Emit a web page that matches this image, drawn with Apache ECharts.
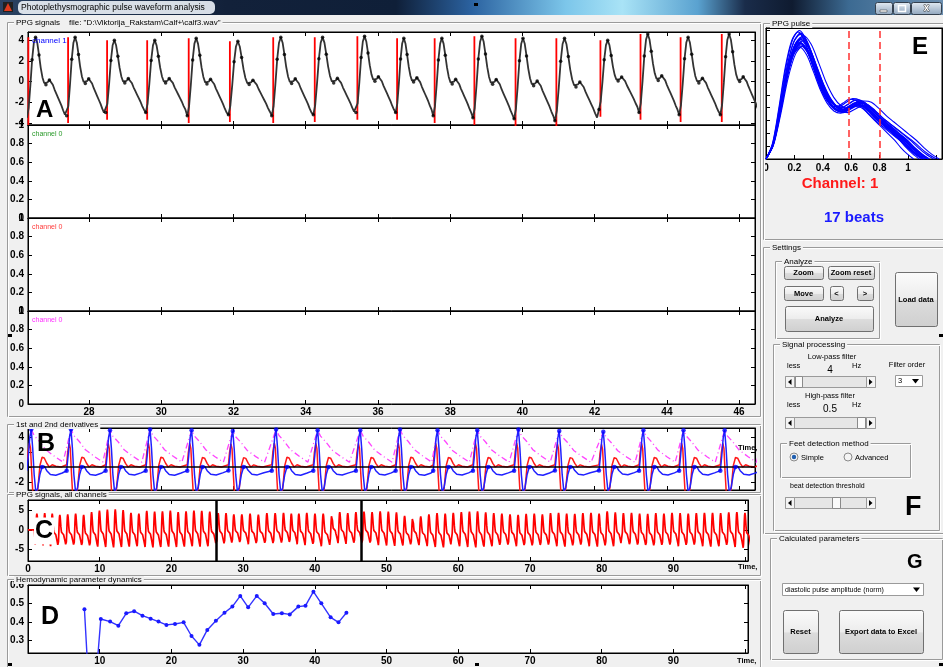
<!DOCTYPE html>
<html><head><meta charset="utf-8">
<script src="https://cdn.jsdelivr.net/npm/echarts@6/dist/echarts.min.js"></script>
<style>html,body{margin:0;padding:0;background:#f0f0f0}#c{width:943px;height:667px}</style>
</head><body><div id="c"></div>
<script>
// ================= DATA =================
// single pulse template (time from foot, s ; normalised amplitude) - panel E
const pulseTime = [0,0.05,0.10,0.15,0.20,0.25,0.30,0.35,0.40,0.45,0.50,0.55,0.60,0.65,0.70,0.75,0.80,0.85,0.90,0.95,1.00,1.05,1.10,1.15];
const pulseNorm = [0,0.12,0.40,0.72,0.93,1.00,0.93,0.78,0.62,0.50,0.43,0.41,0.44,0.47,0.46,0.41,0.35,0.30,0.25,0.20,0.15,0.09,0.04,0.0];
const pulseMarkIdx = [0,3,5,7,11,13];

// panel A: beat foot times (s), foot and peak values
const beatFoot    = [26.28,27.38,28.46,29.57,30.72,31.86,33.06,34.21,35.39,36.49,37.53,38.63,39.77,40.90,42.12,43.23,44.34,45.48,46.60];
const beatFootVal = [-3.5,-3.3,-3.0,-3.0,-3.3,-3.2,-3.3,-3.2,-3.0,-3.0,-3.3,-3.5,-3.6,-3.8,-2.7,-3.0,-3.2,-3.2,-3.0];
const beatPeakVal = [4.3,4.3,4.0,4.0,4.2,3.9,4.3,4.3,4.4,4.2,4.2,4.4,4.2,4.2,4.0,4.6,4.3,4.6,4.3];

// panel B: derivative templates (time from foot, s) and per-beat blue peak
const blueT = [0,0.04,0.08,0.12,0.16,0.20,0.25,0.30,0.36,0.42,0.48,0.55,0.65,0.80,0.98];
const blueV = [-0.5,1.5,4.0,5.0,2.5,-1.0,-3.5,-2.8,-1.0,0.0,0.1,-0.5,-1.0,-1.1,-0.8];
const redT  = [0,0.03,0.07,0.10,0.13,0.17,0.22,0.30,0.36,0.42,0.48,0.55,0.62,0.70,0.80,0.95];
const redV  = [0.3,2.0,3.2,2.5,-0.5,-4.0,-4.5,-3.0,0.2,1.3,1.2,0.5,0.0,0.3,0.1,0.0];
const magT  = [0.12,0.20,0.35,0.52,0.77,1.00];
const magV  = [5.0,4.2,3.4,2.3,1.4,0.65];
const bluePeak = [5.0,5.0,4.9,5.0,4.9,4.8,5.0,4.9,4.9,5.0,4.9,4.9,5.0,4.8,4.7,4.9,4.9,4.9,5.0];
const blueDotIdx = [0,3,9];

// panel C: whole record
const cLeadTime = [0,0.9];
const cLeadVal  = [0,0];
const cFoot = [1.00,2.10,3.15,
  4.20,5.30,6.40,7.52,8.63,9.72,10.83,11.93,13.03,14.12,15.22,16.32,17.42,18.51,19.61,20.70,21.80,22.90,23.99,25.09,
  26.28,27.38,28.46,29.57,30.72,31.86,33.06,34.21,35.39,36.49,37.53,38.63,39.77,40.90,42.12,43.23,44.34,45.48,
  46.60,47.74,48.86,50.00,51.13,52.27,53.40,54.52,55.66,56.79,57.93,59.06,60.18,61.31,62.44,63.58,64.70,65.83,66.97,68.10,
  69.22,70.35,71.48,72.62,73.74,74.87,76.00,77.13,78.26,79.39,80.52,81.65,82.78,83.91,85.04,86.17,87.30,88.43,89.56,90.69,
  91.82,92.95,94.08,95.21,96.34,97.47,98.60,99.73];
const cPeak = [4.2,4.3,4.2,
  3.9,4.0,4.2,3.9,4.6,5.0,
  5.2,5.3,5.1,4.4,4.2,4.9,4.7,4.8,5.0,4.6,4.8,5.0,4.9,4.7,
  4.3,4.3,4.0,4.0,4.2,3.9,4.3,4.3,4.4,4.2,4.2,4.4,4.2,4.2,4.0,4.6,4.3,4.6,
  4.7,4.6,4.8,4.7,4.5,3.6,3.3,3.5,4.0,4.3,
  4.2,4.4,4.6,4.7,4.8,4.5,4.3,4.2,4.0,3.9,
  4.1,4.2,4.0,4.3,4.4,4.2,4.1,4.3,4.4,4.2,
  4.8,4.5,4.3,4.4,4.2,4.1,4.3,4.2,4.4,4.3,
  4.2,4.3,4.4,4.4,4.3,4.5,4.6,4.4];
const cFootVal = [-3.8,-4.0,-4.2,
  -4.0,-4.1,-4.2,-4.3,-4.4,-4.3,
  -4.4,-4.5,-4.4,-4.3,-4.2,-4.4,-4.5,-4.4,-4.3,-4.4,-4.3,-4.2,-4.3,-4.2,
  -3.8,-3.6,-3.4,-3.4,-3.7,-3.6,-3.7,-3.6,-3.4,-3.4,-3.7,-3.9,-4.0,-4.2,-3.1,-3.4,-3.6,-3.6,
  -3.6,-3.7,-3.9,-4.0,-4.1,-4.0,-3.8,-3.9,-4.2,-4.4,
  -4.5,-4.3,-4.2,-4.4,-4.5,-4.3,-4.2,-4.1,-4.0,-4.2,
  -4.3,-4.2,-4.1,-4.0,-4.2,-4.3,-4.1,-4.0,-4.2,-4.3,
  -4.1,-4.2,-4.0,-4.1,-4.2,-4.3,-4.2,-4.1,-4.0,-4.2,
  -4.1,-4.0,-4.2,-4.3,-4.2,-4.1,-4.4,-4.6];
const windowEdges = [26.31,46.44];

// panel D: hemodynamic parameter per beat
const dTime  = [7.87,8.4,9.5,10.15,11.45,12.6,13.7,14.8,15.96,17.1,18.2,19.3,20.5,21.7,22.8,23.9,25.0,26.2,27.4,28.5,29.6,30.7,31.9,33.0,34.2,35.4,36.5,37.7,38.7,39.8,40.9,42.2,43.3,44.4];
const dValue = [0.469,0.10,0.10,0.416,0.402,0.380,0.447,0.458,0.434,0.418,0.402,0.384,0.389,0.398,0.324,0.276,0.357,0.407,0.450,0.483,0.541,0.479,0.541,0.501,0.443,0.447,0.441,0.483,0.488,0.564,0.501,0.425,0.398,0.450];

// panel E: normalised peak of each of the 17 beats, marker lines
const ePeak = [1.0,0.97,0.93,0.90,0.88,0.95,0.92,0.87,0.99,0.91,0.94,0.89,0.96,0.90,0.93,0.88,0.98];
const eMarkers = [0.585,0.80];

// ================= BUILD =================
const FF = 'Liberation Sans';
const lab = {fontFamily:FF, fontSize:10, fontWeight:'bold', color:'#000'};
const grids=[], xAxes=[], yAxes=[], series=[], G=[];

function axis(gi,pos,o,labels,ticks){
  return {type:'value',gridIndex:gi,position:pos,min:o.min,max:o.max,splitNumber:o.split,
    axisLine:{show:true,onZero:false,lineStyle:{color:'#000',width:1}},
    axisTick:{show:ticks,inside:true,length:4,lineStyle:{color:'#000'}},
    axisLabel:Object.assign({show:!!labels,margin:o.margin||4,showMinLabel:!!o.showMin,showMaxLabel:!!o.showMax,
      formatter:o.fmt||(v=>String(+(+v).toFixed(2)))},lab),
    splitLine:{show:false}};
}
function addPlot(g,xo,yo){
  const gi=grids.length;
  grids.push(Object.assign({show:true,backgroundColor:'#fff',borderColor:'#000',borderWidth:1},g));
  const xi=xAxes.length, yi=yAxes.length;
  xAxes.push(axis(gi,'bottom',xo,xo.labels,true));
  xAxes.push(axis(gi,'top',xo,false,xo.topTicks!==false));
  yAxes.push(axis(gi,'left',yo,yo.labels,true));
  yAxes.push(axis(gi,'right',yo,false,yo.rightTicks!==false));
  return {xi,yi};
}
const xTop={min:26.31,max:46.44,split:10};
const pA  = addPlot({left:28,top:32,width:727,height:93}, xTop, {min:-4.2,max:4.8,split:4,labels:true});
const p2  = addPlot({left:28,top:125,width:727,height:93}, xTop, {min:0,max:1,split:5,labels:true,showMin:true,showMax:true});
const p3  = addPlot({left:28,top:218,width:727,height:93}, xTop, {min:0,max:1,split:5,labels:true,showMin:true,showMax:true});
const p4  = addPlot({left:28,top:311,width:727,height:93}, Object.assign({labels:true,margin:3},xTop), {min:0,max:1,split:5,labels:true,showMin:true,showMax:true});
const pB  = addPlot({left:28,top:428,width:727,height:62}, xTop, {min:-3.07,max:5.2,split:4,labels:true});
const fmtLong = v => (v>=100 ? '' : String(Math.round(v)));
const pC  = addPlot({left:28,top:500,width:720,height:61}, {min:0,max:100.4,split:10,labels:true,showMin:true,margin:3,fmt:fmtLong}, {min:-8,max:7.7,split:3,labels:true});
const pD  = addPlot({left:28,top:585,width:720,height:68}, {min:0,max:100.4,split:10,labels:true,margin:3,fmt:fmtLong}, {min:0.232,max:0.6,split:4,labels:true,showMax:true});
const pE  = addPlot({left:766,top:28,width:176,height:131}, {min:0,max:1.24,split:6,labels:true,showMin:true,margin:4,topTicks:false,fmt:v=>(v>1.1?'':String(+(+v).toFixed(1)))}, {min:0,max:1.02,split:7,labels:false,rightTicks:false});

const T = pulseTime[pulseTime.length-1];
function pulseTrain(foots,fv,pv,lastPer){
  const n=pulseTime.length,out=[];
  for(let i=0;i<foots.length;i++){
    const per=i<foots.length-1?foots[i+1]-foots[i]:lastPer;
    const last=i<foots.length-1?n-1:n;
    for(let j=0;j<last;j++) out.push([foots[i]+pulseTime[j]*per/T, fv[i]+pulseNorm[j]*(pv[i]-fv[i])]);
  }
  return out;
}
function tplTrain(foots,tt,tv,peaks){
  const out=[];
  foots.forEach((f,i)=>{const s=peaks[i]/5; tt.forEach((t,j)=>out.push([f+t,tv[j]*s]));});
  return out;
}
const on = p => ({xAxisIndex:p.xi,yAxisIndex:p.yi});

// --- A
const aTrain = pulseTrain(beatFoot,beatFootVal,beatPeakVal,1.14);
const aSpikes=[];
beatFoot.forEach((t,i)=>{aSpikes.push([t+0.04,beatFootVal[i]-0.7],[t+0.04,beatPeakVal[i]],[t+0.04,'-']);});
series.push(Object.assign({type:'line',data:aSpikes,symbol:'none',connectNulls:false,lineStyle:{color:'#ff0000',width:1.8},z:2,silent:true},on(pA)));
series.push(Object.assign({type:'line',data:aTrain,symbol:'none',lineStyle:{color:'#333333',width:1.8},z:3,silent:true},on(pA)));
const aDots=[];
beatFoot.forEach((f,i)=>{const per=i<beatFoot.length-1?beatFoot[i+1]-f:1.14;
  pulseMarkIdx.forEach(j=>aDots.push([f+pulseTime[j]*per/T, beatFootVal[i]+pulseNorm[j]*(beatPeakVal[i]-beatFootVal[i])]));});
series.push(Object.assign({type:'scatter',data:aDots,symbolSize:3.5,itemStyle:{color:'#000'},z:4,silent:true},on(pA)));
// empty channels
[p2,p3,p4].forEach(p=>series.push(Object.assign({type:'line',data:[],symbol:'none'},on(p))));

// --- B
series.push(Object.assign({type:'line',data:tplTrain(beatFoot,redT,redV,bluePeak),symbol:'none',lineStyle:{color:'#ff1a1a',width:1.5},z:3,silent:true},on(pB)));
series.push(Object.assign({type:'line',data:tplTrain(beatFoot,blueT,blueV,bluePeak),symbol:'none',lineStyle:{color:'#2020ff',width:1.5},z:4,silent:true,
  markLine:{silent:true,symbol:['none','none'],label:{show:false},lineStyle:{color:'#000',width:1.5,type:'solid'},data:[{yAxis:0}]}},on(pB)));
const magData=[];
beatFoot.forEach((f,i)=>{const s=bluePeak[i]/5; magT.forEach((t,j)=>magData.push([f+t,magV[j]*s]));});
series.push(Object.assign({type:'line',data:magData,symbol:'none',lineStyle:{color:'#ff44ff',width:1.3,type:[6,3,1,3]},z:3,silent:true},on(pB)));
const bDots=[];
beatFoot.forEach((f,i)=>{const s=bluePeak[i]/5; blueDotIdx.forEach(j=>bDots.push([f+blueT[j],blueV[j]*s]));});
series.push(Object.assign({type:'scatter',data:bDots,symbolSize:4.5,itemStyle:{color:'#0000ff'},z:5,silent:true},on(pB)));

// --- C
const cData = cLeadTime.map((t,i)=>[t,cLeadVal[i]]).concat(pulseTrain(cFoot,cFootVal,cPeak,1.13));
series.push(Object.assign({type:'line',data:cData,symbol:'none',lineStyle:{color:'#ff0000',width:1.7},z:3,silent:true,
  markLine:{silent:true,symbol:['none','none'],label:{show:false},lineStyle:{color:'#000',width:2.5,type:'solid'},data:windowEdges.map(v=>({xAxis:v}))}},on(pC)));

// --- D
series.push(Object.assign({type:'line',data:dTime.map((t,i)=>[t,dValue[i]]),symbol:'circle',symbolSize:4,showSymbol:true,
  itemStyle:{color:'#1a1aff'},lineStyle:{color:'#3333ff',width:1.4},z:3,silent:true},on(pD)));

// --- E
ePeak.forEach((p,k)=>{const i=k+1; const per=beatFoot[i+1]-beatFoot[i];
  const s={type:'line',data:pulseTime.map((t,j)=>[t*per/T,pulseNorm[j]*p]),symbol:'none',smooth:0.3,lineStyle:{color:'#0000ff',width:1.1},z:3,silent:true};
  if(k===0) s.markLine={silent:true,symbol:['none','none'],label:{show:false},lineStyle:{color:'#ff3030',width:1.5,type:[7,4]},data:eMarkers.map(v=>({xAxis:v}))};
  series.push(Object.assign(s,on(pE)));
});

// ================= GUI GRAPHICS =================
function rect(x,y,w,h,style,z,r){G.push({type:'rect',silent:true,z:z||1,shape:{x,y,width:w,height:h,r:r||0},style});}
function text(x,y,t,font,fill,align,extra,z){G.push({type:'text',x,y,silent:true,z:z||20,
  style:Object.assign({text:t,font,fill:fill||'#000',align:align||'left',verticalAlign:'middle',textAlign:align||'left',textVerticalAlign:'middle'},extra||{})});}
function panel(x,y,w,h,label){
  rect(x+0.5,y+0.5,w,h,{fill:'none',stroke:'#9a9a9a',lineWidth:1},1);
  rect(x+1.5,y+1.5,w,h,{fill:'none',stroke:'#ffffff',lineWidth:1},1);
  if(label) text(x+7,y+1,label,'8px "'+FF+'"','#000','left',{backgroundColor:'#f0f0f0',padding:[0,2]},15);
}
const btnFill={type:'linear',x:0,y:0,x2:0,y2:1,colorStops:[{offset:0,color:'#fbfbfb'},{offset:0.5,color:'#ececec'},{offset:0.52,color:'#dcdcdc'},{offset:1,color:'#cfcfcf'}]};
function button(x,y,w,h,label){rect(x+0.5,y+0.5,w,h,{fill:btnFill,stroke:'#707070',lineWidth:1},5,2); text(x+w/2,y+h/2+0.5,label,'bold 7.5px "'+FF+'"','#000','center',null,21);}
function tri(pts,fill){G.push({type:'polygon',silent:true,z:22,shape:{points:pts},style:{fill:fill||'#000'}});}
function slider(x,y,w,h,thumbX,thumbW){
  rect(x+0.5,y+0.5,w,h,{fill:'#e6e6e6',stroke:'#9a9a9a',lineWidth:1},5);
  rect(x+0.5,y+0.5,9,h,{fill:'#f4f4f4',stroke:'#9a9a9a',lineWidth:1},6);
  rect(x+w-8.5,y+0.5,9,h,{fill:'#f4f4f4',stroke:'#9a9a9a',lineWidth:1},6);
  tri([[x+3,y+h/2+0.5],[x+6.5,y+h/2-2.5],[x+6.5,y+h/2+3.5]]);
  tri([[x+w-2.5,y+h/2+0.5],[x+w-6,y+h/2-2.5],[x+w-6,y+h/2+3.5]]);
  rect(thumbX+0.5,y+0.5,thumbW,h,{fill:'#fafafa',stroke:'#8a8a8a',lineWidth:1},7);
}

// title bar
rect(0,0,943,15,{fill:{type:'linear',x:0,y:0,x2:1,y2:0,colorStops:[
  {offset:0,color:'#2a4262'},{offset:0.24,color:'#12213a'},{offset:0.42,color:'#0f1f38'},{offset:0.5,color:'#2b62a0'},
  {offset:0.6,color:'#7cc6ea'},{offset:0.66,color:'#a9e3f6'},{offset:0.74,color:'#5aa2d0'},{offset:0.79,color:'#1a2c4a'},
  {offset:0.84,color:'#0f1b30'},{offset:0.9,color:'#3c6a92'},{offset:1,color:'#6c8fb0'}]}},1);
rect(18,1,197,13,{fill:'rgba(232,238,244,0.92)'},2,5);
rect(3,2,10,10,{fill:'#202020'},3);
tri([[4,11],[8,3],[12,11]],'#e03a1c');
text(21,8,'Photoplethysmographic pulse waveform analysis','8.5px "'+FF+'"','#000');
const wbFill={type:'linear',x:0,y:0,x2:0,y2:1,colorStops:[{offset:0,color:'#e4ecf4'},{offset:0.5,color:'#b9c8d8'},{offset:1,color:'#8ea4bc'}]};
rect(875.5,2.5,17,12,{fill:wbFill,stroke:'#34404e',lineWidth:1},3,2);
rect(893.5,2.5,17,12,{fill:wbFill,stroke:'#34404e',lineWidth:1},3,2);
rect(911.5,2.5,30,12,{fill:wbFill,stroke:'#34404e',lineWidth:1},3,2);
rect(880,10,7,2,{fill:'#fff',stroke:'#333',lineWidth:0.5},4);
rect(898.5,5.5,7,6,{fill:'none',stroke:'#fff',lineWidth:1.5},4);
text(926.5,8.5,'x','bold 10px "'+FF+'"','#fff','center',{stroke:'#333',lineWidth:1},22);

// panels (left)
panel(7,22,753,394,'PPG signals    file: "D:\\Viktorija_Rakstam\\Calf+\\calf3.wav"');
panel(7,424,753,68,'1st and 2nd derivatives');
panel(7,494,753,81,'PPG signals, all channels');
panel(7,579,753,92,'Hemodynamic parameter dynamics');
// panels (right)
panel(763,23,180,216,'PPG pulse');
panel(763,247,180,286,'Settings');
panel(775,261,104,77,'Analyze');
panel(773,344,166,186,'Signal processing');
panel(780,443,130,34,'Feet detection method');
panel(770,538,172,121,'Calculated parameters');

// buttons
button(784,266,39,13,'Zoom');
button(828,266,46,13,'Zoom reset');
button(784,286,39,14,'Move');
button(830,286,13,14,'<');
button(857,286,16,14,'>');
button(785,306,88,25,'Analyze');
button(895,272,42,54,'Load data');
button(783,610,35,43,'Reset');
button(839,610,84,43,'Export data to Excel');

// signal processing controls
const f75='7.5px "'+FF+'"';
text(832,357,'Low-pass filter',f75,'#000','center');
text(787,366,'less',f75);
text(830,370,'4','10px "'+FF+'"','#000','center');
text(852,366,'Hz',f75);
slider(785,376,90,11,795,7);
text(907,365,'Filter order',f75,'#000','center');
rect(895.5,375.5,27,11,{fill:'#fff',stroke:'#9a9a9a',lineWidth:1},5);
text(898,381,'3',f75);
tri([[912,379],[919,379],[915.5,383.5]]);
text(830,396,'High-pass filter',f75,'#000','center');
text(787,405,'less',f75);
text(830,409,'0.5','10px "'+FF+'"','#000','center');
text(852,405,'Hz',f75);
slider(785,417,90,11,857,8);
G.push({type:'circle',silent:true,z:22,shape:{cx:794,cy:457,r:4},style:{fill:'#f4f4f4',stroke:'#8a8a8a',lineWidth:1}});
G.push({type:'circle',silent:true,z:23,shape:{cx:794,cy:457,r:2.2},style:{fill:'#1f5fb0'}});
text(801,457.5,'Simple',f75);
G.push({type:'circle',silent:true,z:22,shape:{cx:848,cy:457,r:4},style:{fill:'#f4f4f4',stroke:'#8a8a8a',lineWidth:1}});
text(855,457.5,'Advanced',f75);
text(790,486,'beat detection threshold','7px "'+FF+'"');
slider(785,497,90,11,832,8);

// calculated parameters
rect(782.5,583.5,141,12,{fill:'#fff',stroke:'#9a9a9a',lineWidth:1},5);
text(785,590,'diastolic pulse amplitude (norm)','7px "'+FF+'"');
tri([[913,587.5],[920,587.5],[916.5,592]]);

// E texts
text(840,184,'Channel: 1','bold 15px "'+FF+'"','#ff1a1a','center');
text(854,218,'17 beats','bold 15px "'+FF+'"','#1a1aff','center');

// channel labels
text(32,41,'channel 1','8px "'+FF+'"','#0000ff');
text(32,134.5,'channel 0','7px "'+FF+'"','#2a9a2a');
text(32,227,'channel 0','7px "'+FF+'"','#ff3a3a');
text(32,320,'channel 0','7px "'+FF+'"','#ff33ff');

// "Time," labels
text(738,448,'Time,','bold 7.5px "'+FF+'"');
text(738,567,'Time,','bold 7.5px "'+FF+'"');
text(737,661,'Time,','bold 7.5px "'+FF+'"');

// panel letters
const big = s => 'bold '+s+'px "'+FF+'"';
text(36,110,'A',big(24),'#000','left',null,30);
text(37,444,'B',big(25),'#000','left',null,30);
text(34,531,'C',big(25),'#000','left',{backgroundColor:'#fff',padding:[1,1]},30);
text(41,617,'D',big(25),'#000','left',null,30);
text(912,47,'E',big(24),'#000','left',null,30);
text(905,508,'F',big(27),'#000','left',null,30);
text(907,562,'G',big(20),'#000','left',null,30);

// selection handles
[[474,3],[8,334],[8,663],[475,663],[939,334],[939,663]].forEach(p=>rect(p[0],p[1],4,3,{fill:'#000'},40));

const chart = echarts.init(document.getElementById('c'),null,{renderer:'canvas',width:943,height:667});
chart.setOption({
  animation:false,
  backgroundColor:'#f0f0f0',
  textStyle:{fontFamily:FF},
  grid:grids, xAxis:xAxes, yAxis:yAxes, series:series,
  graphic:{elements:G}
});
</script></body></html>
